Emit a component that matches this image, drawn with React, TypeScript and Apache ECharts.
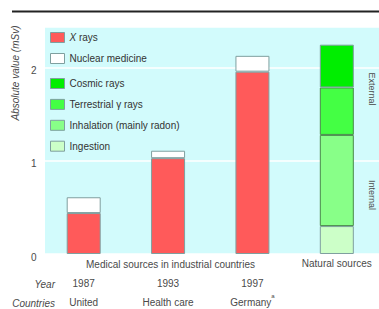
import React, { useEffect, useRef } from "react";
import * as echarts from "echarts";

const categories = ["1987", "1993", "1997", "Natural sources"];
const years = ["1987", "1993", "1997", ""];
const countries = ["United", "Health care", "Germany", ""];
const countryNotes = ["", "", "a", ""];
const xRays = [0.44, 1.03, 1.96, null];
const nuclearMedicine = [0.17, 0.08, 0.17, null];
const ingestion = [null, null, null, 0.3];
const inhalation = [null, null, null, 0.98];
const terrestrial = [null, null, null, 0.51];
const cosmic = [null, null, null, 0.46];
const yTicks = [0, 1, 2];

const FONT = "Liberation Sans, Arial, sans-serif";
const GRAY = "#4a4a4a";
const BORDER = "#7f9f9f";

export default function App() {
  const ref = useRef<HTMLDivElement>(null);
  useEffect(() => {
    if (!ref.current) return;
    const chart = echarts.init(ref.current, undefined, { renderer: "svg" });
    const mk = (name: string, data: any[], color: string, borderColor = BORDER) => ({
      name,
      type: "bar",
      stack: "total",
      data,
      barWidth: 34,
      itemStyle: { color, borderColor, borderWidth: 1 },
    });
    const legendItemStyle = { borderColor: BORDER, borderWidth: 1 };
    chart.setOption({
      animation: false,
      textStyle: { fontFamily: FONT },
      grid: { left: 41.5, top: 27, width: 344, height: 227, show: false },
      xAxis: {
        type: "category",
        data: categories,
        axisLine: { show: false },
        axisTick: { show: false },
        axisLabel: {
          margin: 0,
          interval: 0,
          formatter: (_v: string, i: number) =>
            i === 3
              ? `{g|${categories[3]}}\n{v| }\n{v| }`
              : `{g| }\n{v|${years[i]}}\n{v|${countries[i]}}` + (countryNotes[i] ? `{s|${countryNotes[i]}}` : ""),
          rich: {
            g: { fontSize: 10, color: GRAY, lineHeight: 19.5, fontFamily: FONT },
            v: { fontSize: 10, color: GRAY, lineHeight: 19.5, fontFamily: FONT },
            s: { fontSize: 6, color: GRAY, lineHeight: 12, verticalAlign: "top", fontFamily: FONT },
          },
        },
      },
      yAxis: {
        type: "value",
        min: 0,
        max: 2.44,
        interval: 1,
        axisLine: { show: false },
        axisTick: { show: false },
        splitLine: { show: true, lineStyle: { color: "#ffffff", width: 1.5 } },
        axisLabel: {
          showMaxLabel: false,
          color: GRAY,
          fontSize: 10,
          margin: 5,
          verticalAlign: "top",
          lineHeight: 6,
          fontFamily: FONT,
          formatter: (v: number) => (yTicks.includes(v) ? String(v) : ""),
        },
      },
      legend: [
        {
          orient: "vertical",
          left: 50,
          top: 32,
          padding: 0,
          itemWidth: 14,
          itemHeight: 10,
          itemGap: 10,
          icon: "rect",
          itemStyle: legendItemStyle,
          data: ["X rays", "Nuclear medicine"],
          formatter: (n: string) => (n === "X rays" ? "{i|X} rays" : n),
          textStyle: {
            color: "#333",
            fontSize: 10,
            fontFamily: FONT,
            rich: { i: { fontStyle: "italic", fontSize: 10, color: "#333", fontFamily: FONT } },
          },
        },
        {
          orient: "vertical",
          left: 50,
          top: 78,
          padding: 0,
          itemWidth: 14,
          itemHeight: 10,
          itemGap: 9.9,
          icon: "rect",
          itemStyle: legendItemStyle,
          data: ["Cosmic rays", "Terrestrial γ rays", "Inhalation (mainly radon)", "Ingestion"],
          textStyle: { color: "#333", fontSize: 10, fontFamily: FONT },
        },
      ],
      graphic: [
        {
          type: "rect",
          z: -10,
          silent: true,
          shape: { x: 45, y: 27, width: 334, height: 227 },
          style: { fill: "#d2fbfc" },
        },
        {
          type: "line",
          shape: { x1: 12, y1: 11.5, x2: 379, y2: 11.5 },
          style: { stroke: "#222", lineWidth: 2 },
        },
        {
          type: "text",
          x: 15,
          y: 73,
          rotation: Math.PI / 2,
          style: {
            text: "Absolute value (mSv)",
            fontSize: 10,
            fontStyle: "italic",
            fill: GRAY,
            align: "center",
            verticalAlign: "middle",
            fontFamily: FONT,
          },
        },
        {
          type: "text",
          x: 372,
          y: 89,
          rotation: -Math.PI / 2,
          style: { text: "External", fontSize: 9, fill: GRAY, align: "center", verticalAlign: "middle", fontFamily: FONT },
        },
        {
          type: "text",
          x: 372,
          y: 195,
          rotation: -Math.PI / 2,
          style: { text: "Internal", fontSize: 9, fill: GRAY, align: "center", verticalAlign: "middle", fontFamily: FONT },
        },
        {
          type: "text",
          x: 170.5,
          y: 264,
          style: {
            text: "Medical sources in industrial countries",
            fontSize: 10,
            fill: GRAY,
            align: "center",
            verticalAlign: "middle",
            fontFamily: FONT,
          },
        },
        {
          type: "text",
          x: 55,
          y: 284,
          style: { text: "Year", fontSize: 10, fontStyle: "italic", fill: GRAY, align: "right", verticalAlign: "middle", fontFamily: FONT },
        },
        {
          type: "text",
          x: 55,
          y: 303,
          style: { text: "Countries", fontSize: 10, fontStyle: "italic", fill: GRAY, align: "right", verticalAlign: "middle", fontFamily: FONT },
        },
      ],
      series: [
        mk("X rays", xRays, "#ff5a5a"),
        mk("Nuclear medicine", nuclearMedicine, "#ffffff"),
        mk("Ingestion", ingestion, "#ccffc8"),
        mk("Inhalation (mainly radon)", inhalation, "#88ff88", "#4a8a4a"),
        mk("Terrestrial γ rays", terrestrial, "#44ff44", "#4a8a4a"),
        mk("Cosmic rays", cosmic, "#00ee00"),
      ],
    });
    return () => chart.dispose();
  }, []);
  return <div ref={ref} style={{ width: 379, height: 309, position: "absolute", left: 0, top: 0 }} />;
}
